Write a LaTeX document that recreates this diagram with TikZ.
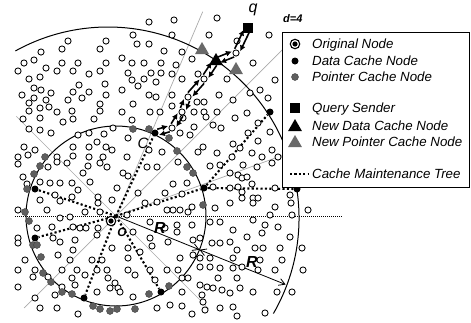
\documentclass[tikz,border=0pt]{standalone}
\usepackage{fontspec}
\setmainfont{Liberation Sans}
\usetikzlibrary{arrows.meta,calc,shapes.geometric}
\definecolor{ptrfill}{RGB}{95,95,95}
\definecolor{guide}{RGB}{170,170,170}
\definecolor{newptr}{RGB}{105,105,105}

% a pair of opposite hop arrows between two relays
\newcommand\twoway[2]{%
  \draw[patharrow] ($(#1)!3pt!90:(#2)$) -- ($(#2)!3pt!-90:(#1)$);
  \draw[patharrow] ($(#2)!3pt!90:(#1)$) -- ($(#1)!3pt!-90:(#2)$);
}

\begin{document}
\begin{tikzpicture}[x=1pt,y=-1pt,
  plainnode/.style={circle,draw=black,fill=white,line width=0.85pt,inner sep=0pt,minimum size=6.2pt},
  datanode/.style={circle,fill=black,inner sep=0pt,minimum size=7pt},
  ptrnode/.style={circle,fill=ptrfill,draw=black!75,line width=0.4pt,inner sep=0pt,minimum size=7pt},
  orignode/.style={circle,draw=black,fill=white,line width=1.1pt,inner sep=0pt,minimum size=9.5pt},
  newdata/.style={regular polygon,regular polygon sides=3,fill=black,inner sep=0pt,minimum size=16pt},
  newpointer/.style={regular polygon,regular polygon sides=3,fill=newptr,inner sep=0pt,minimum size=16pt},
  sender/.style={rectangle,fill=black,minimum size=10pt,inner sep=0pt},
  tree/.style={line width=2.1pt,dash pattern=on 2.1pt off 2.3pt},
  guideline/.style={draw=guide,line width=0.7pt},
  rline/.style={line width=0.8pt},
  patharrow/.style={line width=1.6pt,-{Latex[length=6pt,width=6pt]},shorten <=3.2pt,shorten >=3.2pt},
  legtext/.style={anchor=west,inner sep=0pt,text height=9.5pt,text depth=0pt,font=\fontsize{13.3}{15}\selectfont\itshape},
  lbl/.style={inner sep=0pt}
]
\useasboundingbox (0,0) rectangle (471,322);

\coordinate (ctr) at (116,216);
\coordinate (octr) at (108,218);

% sector guide lines
\draw[guideline] (ctr) -- ++(-67:222);
\draw[guideline] ($(ctr)+(-135:141)$) -- ($(ctr)+(45:131)$);
\draw[guideline] ($(ctr)+(135:130)$) -- ($(ctr)+(-45:240)$);
\draw[guideline] (ctr) -- ++(-20:185);
\draw[line width=0.7pt,dash pattern=on 0.8pt off 1.2pt] (15,216) -- (342,216);

% ranges R and 2R
\draw[line width=1pt] (ctr) circle[radius=90];
\draw[line width=1pt] (octr) ++(30:191) arc[start angle=30,end angle=-119,radius=191];

% inner data cache nodes and outer ones
\node[datanode] (dA) at (35,189) {};
\node[datanode] (dB) at (35,238) {};
\node[datanode] (dC) at (84,298) {};
\node[datanode] (dD) at (161,292) {};
\node[datanode] (dE) at (204,188) {};
\node[datanode] (dF) at (155,133) {};
\node[datanode] (dG) at (297,189) {};
\node[datanode] (dH) at (270,112) {};

% cache maintenance tree
\foreach \d in {dA,dB,dC,dD,dE,dF} \draw[tree] (ctr) -- (\d);
\draw[tree] (dE) -- (dG);
\draw[tree] (dE) -- (dH);

% R arrows
\coordinate (rin) at ($(ctr)+(22:90)$);
\coordinate (rout) at ($(ctr)+(22:183)$);
\draw[rline,-{Straight Barb[length=6pt,width=7pt]}] (ctr) -- (rin);
\draw[rline,{Straight Barb[length=6pt,width=7pt]}-{Straight Barb[length=6pt,width=7pt]}] (rin) -- (rout);

% ordinary nodes
\foreach \p [count=\i] in {
(149,22),(174,20),(217,18),(133,35),(172,35),(209,35),(237,41),(68,41),(106,41),(137,44),(149,44),(182,52),
(41,52),(62,49),(100,49),(164,51),(192,59),(24,63),(34,60),(62,63),(78,63),(106,63),(122,58),(132,63),(144,63),
(161,63),(176,65),(18,71),(46,68),(57,71),(73,71),(100,71),(128,73),(151,73),(161,73),(172,74),(198,74),
(29,79),(40,77),(89,74),(132,80),(144,79),(156,82),(182,79),(227,79),(22,95),(34,88),(41,90),(51,93),(73,92),
(79,85),(89,92),(105,84),(122,90),(138,86),(29,103),(34,98),(46,100),(68,100),(82,98),(100,104),(106,95),
(149,95),(156,97),(172,95),(197,102),(204,102),(219,95),(233,100),(29,111),(40,108),(49,107),(57,112),(72,111),
(100,111),(122,112),(133,104),(150,112),(172,106),(194,112),(204,112),(217,112),(235,118),(23,119),(40,118),
(63,122),(73,119),(94,119),(132,120),(160,112),(183,118),(194,127),(206,117),(213,125),(221,128),(233,144),
(29,129),(40,130),(51,133),(78,135),(89,133),(104,134),(113,128),(128,138),(180,133),(190,135),(203,147),
(24,147),(35,150),(73,147),(89,147),(97,142),(106,147),(112,150),(149,150),(162,152),(198,152),(217,153),
(232,157),(18,157),(28,155),(57,157),(73,156),(89,157),(103,157),(127,157),
(269,35),(253,63),(275,80),(260,90),(250,93),(268,98),(247,113),(258,123),(248,133),(270,132),(258,141),
(240,148),(252,153),(262,157),(272,150),(278,157),
(18,164),(48,167),(57,162),(67,163),(23,177),(27,184),(40,182),(50,183),(60,183),(72,183),(78,190),(55,195),
(60,201),(72,197),(40,200),(18,210),(47,210),(60,218),(70,217),(37,228),(52,227),(73,227),(18,238),(18,243),
(53,238),(60,242),(75,240),(73,250),(58,255),(70,260),
(83,173),(88,166),(100,163),(107,167),(123,173),(128,176),(147,167),(157,167),(178,162),(173,184),(187,183),
(210,166),(220,165),(230,173),(238,175),(90,182),(117,188),(138,193),(165,193),(182,194),(213,187),(230,188),
(238,187),(98,197),(98,203),(112,200),(145,203),(157,202),(173,210),(192,207),(215,208),(230,203),(85,212),
(100,212),(127,215),(167,210),(180,210),(188,212),(80,228),(86,228),(98,228),(150,222),(165,228),(177,225),
(177,232),(192,225),(210,222),(220,222),(233,230),(97,235),(133,232),(150,238),(152,246),(168,242),(193,240),
(200,238),(212,243),(220,243),(230,242),(237,250),(112,248),(128,248),(140,252),
(92,260),(102,260),(128,258),(180,258),(193,255),(200,258),(210,258),(233,258),(25,260),
(18,270),(35,270),(62,270),(77,270),(97,270),(107,270),(128,270),(135,275),(150,270),(167,270),(178,270),
(200,267),(210,267),(220,268),(233,268),(33,277),(48,277),(72,278),(85,275),(108,278),(115,283),(118,288),
(155,280),(182,278),(188,278),(200,285),(207,287),(218,278),(237,278),(18,287),(62,287),(75,285),(97,292),
(110,288),(120,292),(133,297),(182,292),(202,295),(213,288),(222,290),(230,293),(35,298),(55,295),(170,305),
(182,306),(203,302),(40,308),(57,308),(78,314),(157,308),(192,314),(205,310),(220,308),(233,307),(237,316),
(243,165),(257,167),(272,163),(242,178),(247,177),(252,184),(275,188),(242,192),(242,198),(253,198),(258,198),
(290,195),(253,203),(275,207),(291,203),(308,210),(253,220),(270,215),(292,215),(265,225),(278,227),(247,237),
(262,233),(290,237),(255,248),(263,248),(280,248),(302,248),(260,260),(282,260),(303,270),(242,267),(258,270),
(275,270),(240,288),(253,292),(277,292),(292,292),(265,313)}
  \node[plainnode] (n\i) at \p {};

% pointer cache nodes
\foreach \p [count=\i] in {
(45,157),(40,166),(34,174),(27,189),(25,212),(29,221),(33,245),(37,245),(41,257),(43,273),(51,282),(62,292),
(72,294),(93,306),(100,309),(110,311),(117,309),(135,309),(149,294),(169,286),(133,129),(149,129),(169,138),
(177,151),(187,167),(193,173),(203,205)}
  \node[ptrnode] (p\i) at \p {};

% the original node
\node[orignode] (O) at (111,221) {};
\fill (O.center) circle[radius=2.6pt];

% query path relays
\node[plainnode] (r1) at (236,53) {};
\node[plainnode] (r2) at (204,79) {};
\node[plainnode] (r3) at (188,97) {};
\node[plainnode] (r4) at (182,112) {};
\node[plainnode] (r5) at (172,128) {};
\node[sender] (q) at (248,28) {};
\node[newdata] (t) at (216,61) {};
\node[newpointer] (g1) at (202,50) {};
\node[newpointer] (g2) at (236,70) {};

\twoway{q}{r1}
\twoway{r1}{t}
\twoway{t}{r2}
\twoway{r2}{r3}
\twoway{r3}{r4}
\twoway{r4}{r5}
\twoway{r5}{dF}

% labels
\node[lbl,font=\fontsize{16}{16}\selectfont\itshape] (qlab) at (253,10) {q};
\node[lbl,font=\fontsize{15}{15}\selectfont\itshape] (clab) at (143,143) {C};
\node[lbl,font=\fontsize{12}{12}\selectfont\bfseries\itshape] (olab) at (122,232) {O};
\node[lbl,font=\fontsize{16}{16}\selectfont\bfseries\itshape] (rlab1) at (160,228) {R};
\node[lbl,font=\fontsize{16}{16}\selectfont\bfseries\itshape] (rlab2) at (252,262) {R};
\node[lbl,anchor=west,font=\fontsize{11}{11}\selectfont\bfseries\itshape] (dlab) at (283,19) {d=4};

% legend
\node[draw,fill=white,line width=0.8pt,anchor=north west,minimum width=187pt,minimum height=155pt,inner sep=0pt] (legend) at (282,32) {};
\node[orignode] (lo) at (295,44) {};
\fill (lo.center) circle[radius=2.6pt];
\node[datanode] (ld) at (295,61) {};
\node[ptrnode] (lp) at (295,77) {};
\node[sender] (ls) at (295,108) {};
\node[newdata] (lt) at (295,127) {};
\node[newpointer] (lg) at (295,143) {};
\coordinate (lta) at (290,174);
\coordinate (ltb) at (308,174);
\draw[tree] (lta) -- (ltb);
\node[legtext] (t1) at (312,44) {Original Node};
\node[legtext] (t2) at (312,61) {Data Cache Node};
\node[legtext] (t3) at (312,77) {Pointer Cache Node};
\node[legtext] (t4) at (312,108) {Query Sender};
\node[legtext] (t5) at (312,126) {New Data Cache Node};
\node[legtext] (t6) at (312,142) {New Pointer Cache Node};
\node[legtext] (t7) at (312,174) {Cache Maintenance Tree};
\end{tikzpicture}
\end{document}
